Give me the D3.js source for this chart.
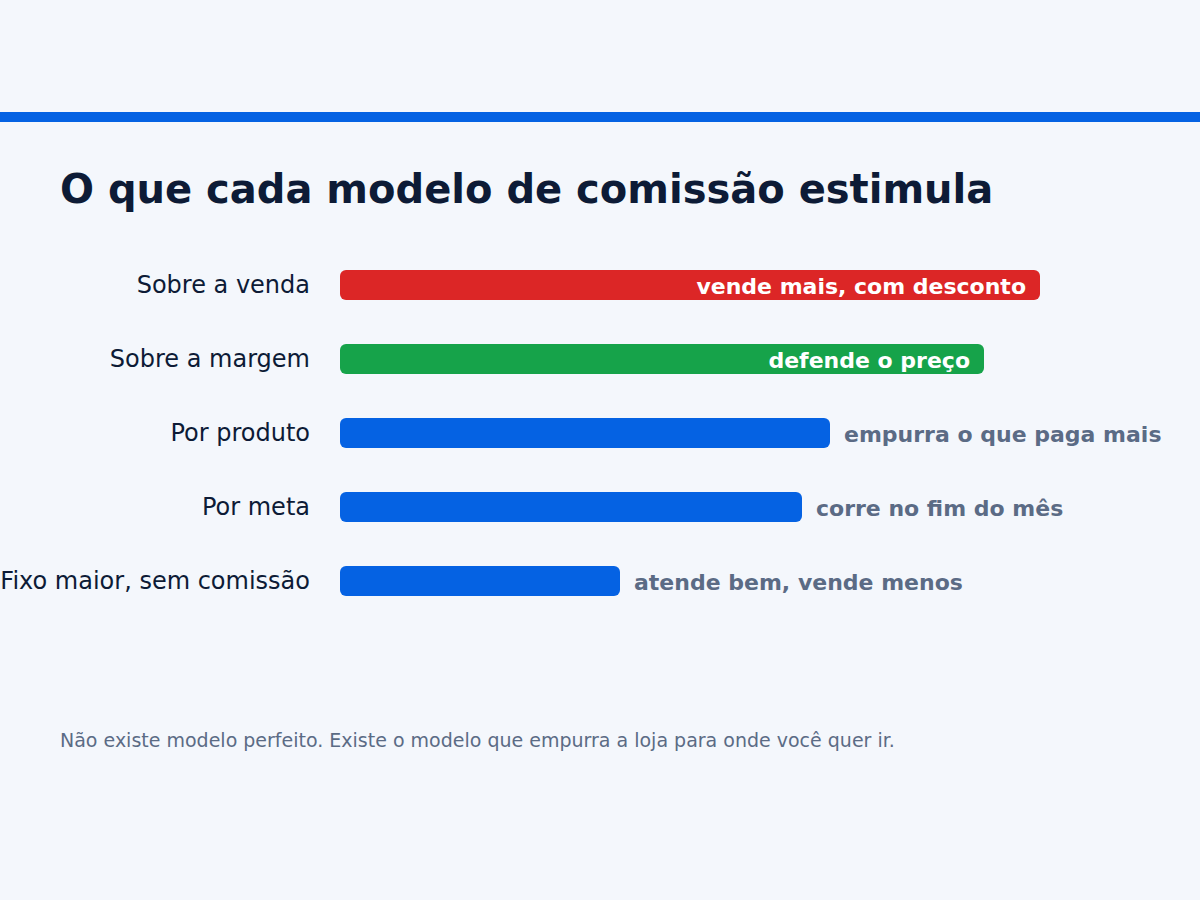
<!DOCTYPE html>
<html>
<head>
<meta charset="utf-8">
<script src="https://cdn.jsdelivr.net/npm/d3@7"></script>
<style>
  html, body { margin: 0; padding: 0; background: #f4f7fc; }
  svg { display: block; font-family: "DejaVu Sans", sans-serif; }
</style>
</head>
<body>
<svg width="1200" height="900"></svg>
<script>
// chart data
var models = ["Sobre a venda", "Sobre a margem", "Por produto", "Por meta", "Fixo maior, sem comissão"];
var strength = [100, 92, 70, 66, 40];
var effects = ["vende mais, com desconto", "defende o preço", "empurra o que paga mais", "corre no fim do mês", "atende bem, vende menos"];
var inside = [true, true, false, false, false];
var barColors = ["#dc2626", "#16a34a", "#0562e3", "#0562e3", "#0562e3"];

var svg = d3.select("svg");

svg.append("rect").attr("width", 1200).attr("height", 900).attr("fill", "#f4f7fc");
svg.append("rect").attr("x", 0).attr("y", 112).attr("width", 1200).attr("height", 10).attr("fill", "#0562e3");

svg.append("text")
    .attr("x", 60).attr("y", 203)
    .attr("font-size", 40).attr("font-weight", "bold")
    .attr("fill", "#0d1b36")
    .text("O que cada modelo de comissão estimula");

var xscale = d3.scaleLinear().domain([0, 100]).range([340, 1040]);
var yscale = d3.scaleBand().domain(models).range([248, 618]).paddingInner(0.5946).paddingOuter(0.2973);

var rows = svg.append("g").selectAll("g")
    .data(models)
    .join("g");

rows.append("text")
    .attr("x", 310)
    .attr("y", function (d) { return yscale(d) + yscale.bandwidth() / 2; })
    .attr("dy", "0.33em")
    .attr("text-anchor", "end")
    .attr("font-size", 24)
    .attr("fill", "#0d1b36")
    .text(function (d) { return d; });

rows.append("rect")
    .attr("x", xscale(0))
    .attr("y", function (d) { return yscale(d); })
    .attr("width", function (d, i) { return xscale(strength[i]) - xscale(0); })
    .attr("height", yscale.bandwidth())
    .attr("rx", 6).attr("ry", 6)
    .attr("fill", function (d, i) { return barColors[i]; });

rows.append("text")
    .attr("x", function (d, i) { return inside[i] ? xscale(strength[i]) - 14 : xscale(strength[i]) + 14; })
    .attr("y", function (d) { return yscale(d) + yscale.bandwidth() / 2; })
    .attr("dy", "0.4em")
    .attr("text-anchor", function (d, i) { return inside[i] ? "end" : "start"; })
    .attr("font-size", 22)
    .attr("font-weight", "bold")
    .attr("fill", function (d, i) { return inside[i] ? "#ffffff" : "#5b6b85"; })
    .text(function (d, i) { return effects[i]; });

svg.append("text")
    .attr("x", 60).attr("y", 747)
    .attr("font-size", 19)
    .attr("fill", "#5b6b85")
    .text("Não existe modelo perfeito. Existe o modelo que empurra a loja para onde você quer ir.");
</script>
</body>
</html>
